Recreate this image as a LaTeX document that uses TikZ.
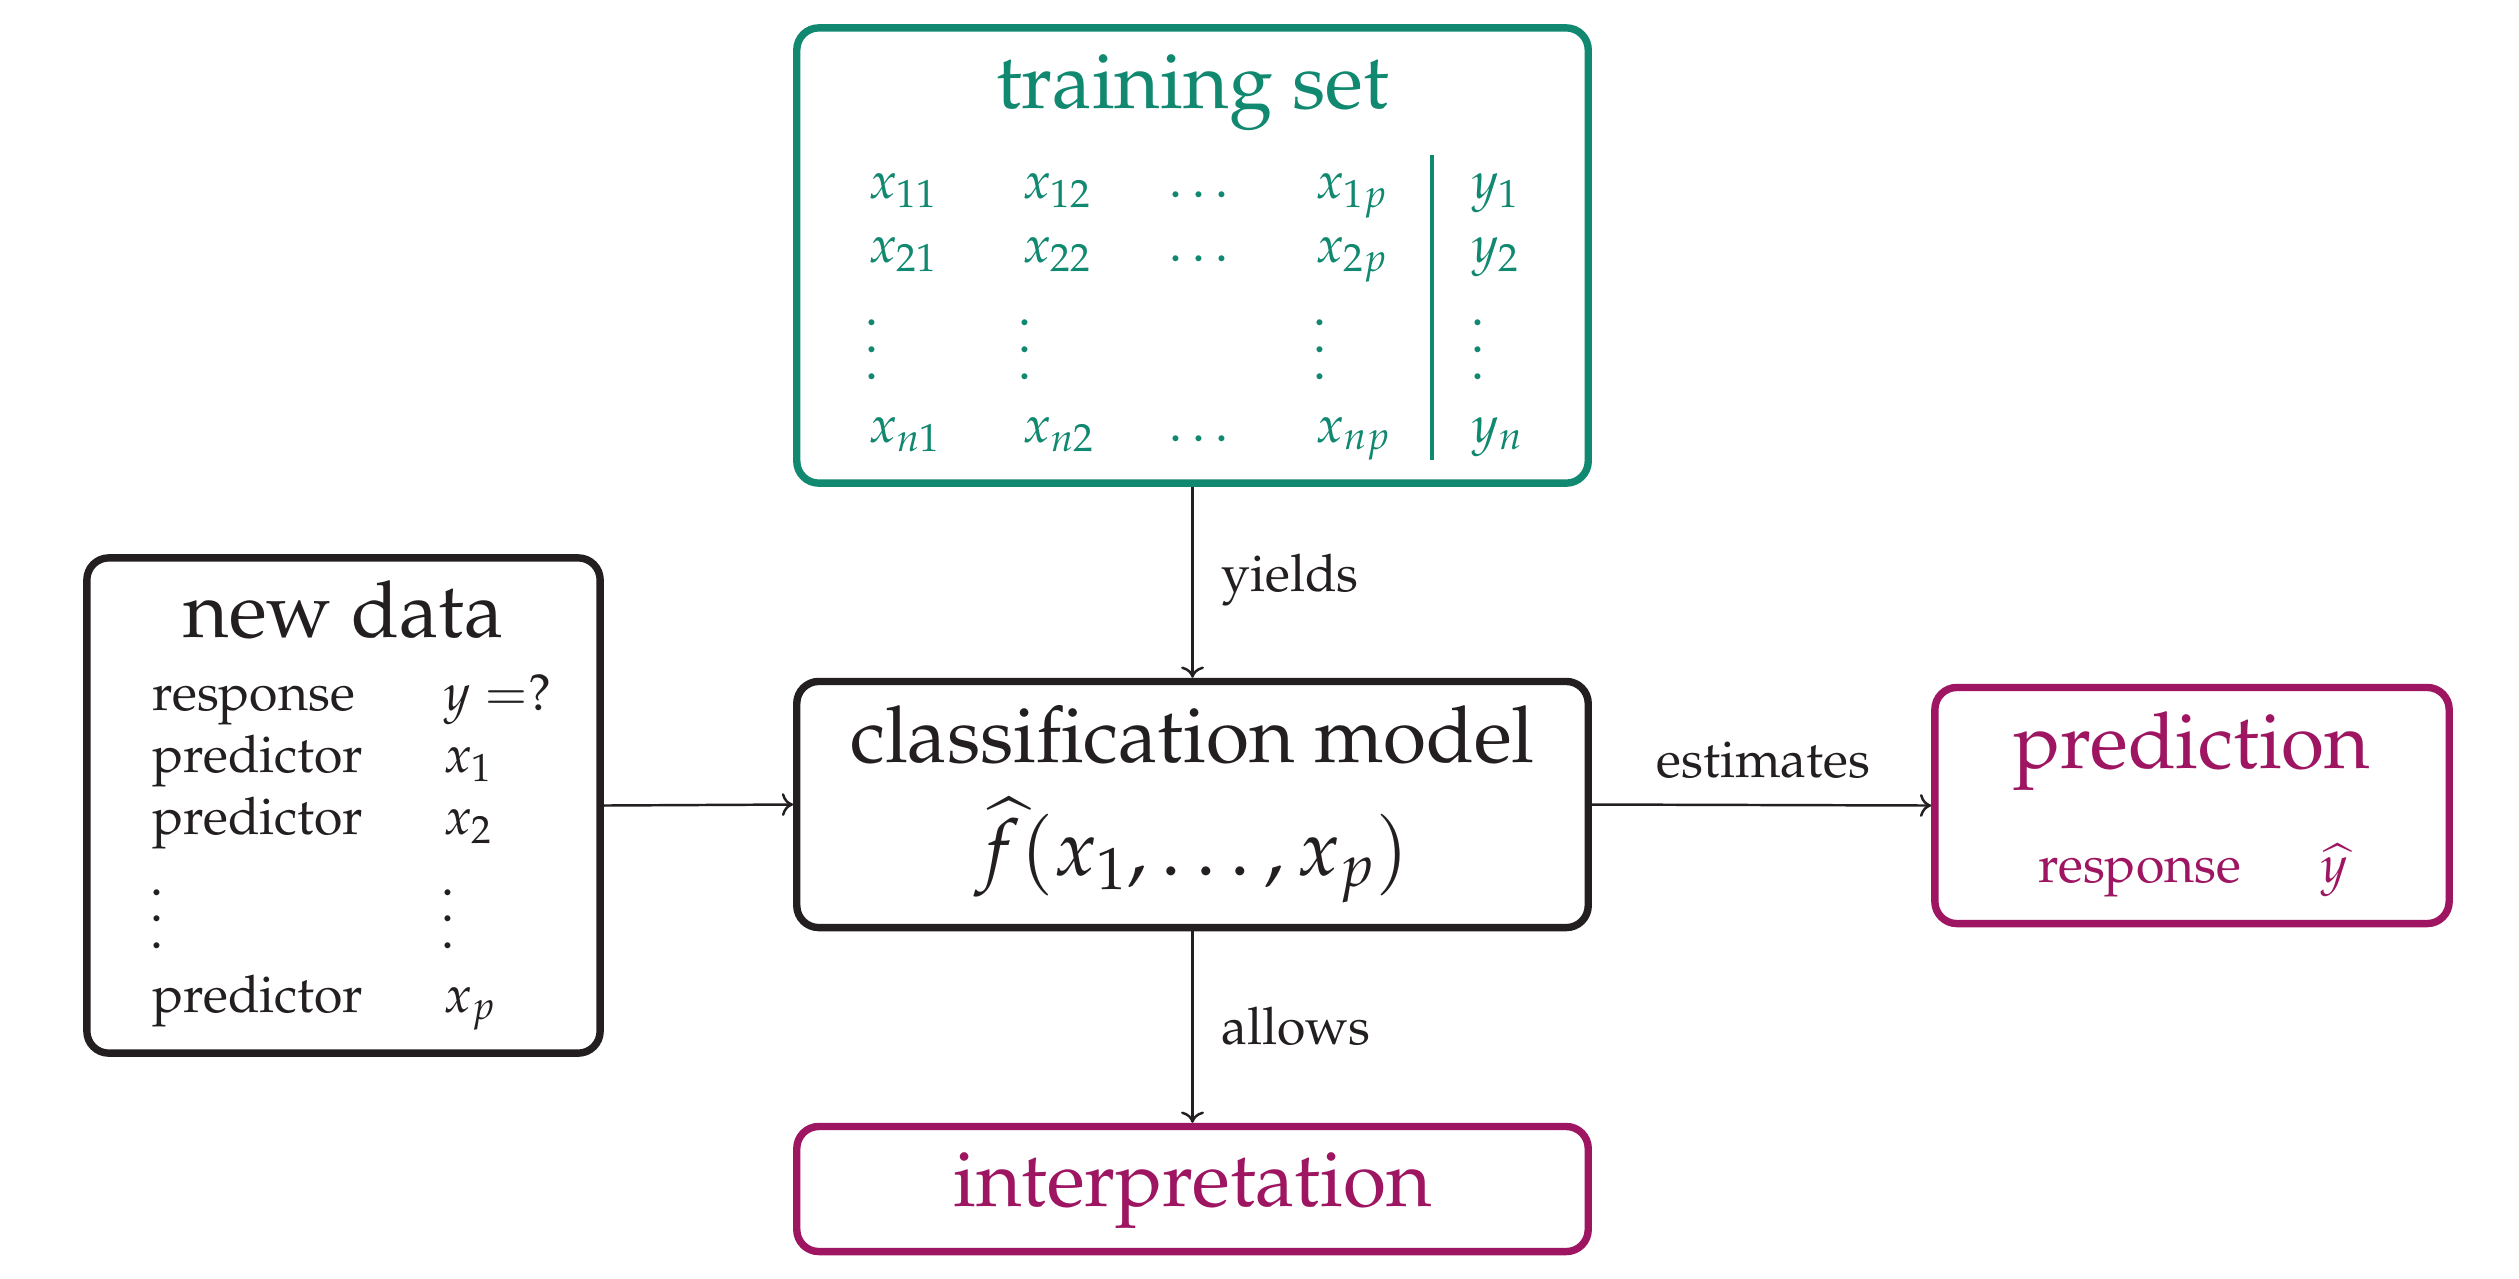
\documentclass[tikz,border=0pt]{standalone}
\usepackage[T1]{fontenc}
\usepackage{mathpazo}
\usetikzlibrary{arrows.meta}
\definecolor{tealc}{RGB}{17,136,112}
\definecolor{magc}{RGB}{158,21,98}
\definecolor{inkc}{RGB}{35,31,32}
\newcommand\myvdots{\vbox{\baselineskip=0.27cm \lineskiplimit=0pt \hbox{.}\hbox{.}\hbox{.}}}
\newcommand\nvdots{\vbox{\baselineskip=0.265cm \lineskiplimit=0pt \hbox{.}\hbox{.}\hbox{.}}}
\begin{document}
\begin{tikzpicture}[x=0.01cm,y=-0.01cm,
  box/.style={draw, rounded corners=0.22cm, line width=2.1pt, inner sep=0pt, fill=white},
  ttl/.style={font=\fontsize{22.3}{26}\selectfont, anchor=base, inner sep=0pt},
  txt/.style={font=\fontsize{14.7}{17}\selectfont, anchor=base west, inner sep=0pt},
  dts/.style={font=\fontsize{14.7}{17}\selectfont, anchor=center, inner sep=0pt},
  conn/.style={draw=inkc, line width=0.7pt, -{To[length=3.2pt,width=6.5pt]}},
  lbl/.style={font=\fontsize{14.7}{17}\selectfont, text=inkc, anchor=base west, inner sep=0pt}]
\useasboundingbox (0,0) rectangle (2519,1278);

% boxes
\node[box, draw=tealc, minimum width=7.91cm, minimum height=4.55cm] (train) at (1192.5,255.5) {};
\node[box, draw=inkc, minimum width=5.13cm, minimum height=4.95cm] (newd) at (343.5,805.5) {};
\node[box, draw=inkc, minimum width=7.91cm, minimum height=2.46cm] (model) at (1192.5,804.5) {};
\node[box, draw=magc, minimum width=5.14cm, minimum height=2.36cm] (pred) at (2192,805.5) {};
\node[box, draw=magc, minimum width=7.91cm, minimum height=1.25cm] (interp) at (1192.5,1189) {};

% training set contents
\begin{scope}[text=tealc]
\node[ttl] (traint) at (1192.5,108) {training set};
\node[txt] (m11) at (868,198) {$x_{11}$};
\node[txt] (m12) at (1022,198) {$x_{12}$};
\node[dts] (m13) at (1199,195) {$\ldots$};
\node[txt] (m14) at (1315,198) {$x_{1p}$};
\node[txt] (m15) at (1471,198) {$y_1$};
\node[txt] (m21) at (868,262) {$x_{21}$};
\node[txt] (m22) at (1022,262) {$x_{22}$};
\node[dts] (m23) at (1199,259) {$\ldots$};
\node[txt] (m24) at (1315,262) {$x_{2p}$};
\node[txt] (m25) at (1471,262) {$y_2$};
\node[dts] (v1) at (872,350) {\myvdots};
\node[dts] (v2) at (1025,350) {\myvdots};
\node[dts] (v4) at (1320,350) {\myvdots};
\node[dts] (v5) at (1478,350) {\myvdots};
\node[txt] (mn1) at (868,442) {$x_{n1}$};
\node[txt] (mn2) at (1022,442) {$x_{n2}$};
\node[dts] (mn3) at (1199,439) {$\ldots$};
\node[txt] (mn4) at (1315,442) {$x_{np}$};
\node[txt] (mn5) at (1471,442) {$y_n$};
\end{scope}
\coordinate (sepT) at (1432,155);
\coordinate (sepB) at (1432,460);
\draw[tealc, line width=1.3pt] (sepT) -- (sepB);

% new data contents
\begin{scope}[text=inkc]
\node[ttl] (newt) at (343.5,637) {new data};
\node[txt] (r1a) at (152,710) {response};
\node[txt] (r1b) at (443,710) {$y=$?};
\node[txt] (r2a) at (152,772) {predictor};
\node[txt] (r2b) at (443,772) {$x_1$};
\node[txt] (r3a) at (152,834) {predictor};
\node[txt] (r3b) at (443,834) {$x_2$};
\node[dts] (nv1) at (157,919) {\nvdots};
\node[dts] (nv2) at (448,919) {\nvdots};
\node[txt] (r4a) at (152,1012) {predictor};
\node[txt] (r4b) at (443,1012) {$x_p$};
\end{scope}

% model contents
\node[ttl, text=inkc] (modelt) at (1192.5,762) {classification model};
\node[ttl, text=inkc] (modelf) at (1192.5,875) {$\widehat{f}(x_1,\ldots,x_p)$};

% prediction contents
\node[ttl, text=magc] (predt) at (2192,768) {prediction};
\node[txt, text=magc] (predr) at (2038,882) {response};
\node[txt, text=magc] (predy) at (2320,882) {$\widehat{y}$};

% interpretation
\node[ttl, text=magc] (interpt) at (1192.5,1206) {interpretation};

% connectors
\draw[conn] (train.south) -- (model.north);
\draw[conn] (model.south) -- (interp.north);
\draw[conn] (newd.east) -- (model.west);
\draw[conn] (model.east) -- (pred.west);
\node[lbl] (yl) at (1221,591) {yields};
\node[lbl] (al) at (1221,1044) {allows};
\node[lbl] (el) at (1656,777) {estimates};
\end{tikzpicture}
\end{document}
